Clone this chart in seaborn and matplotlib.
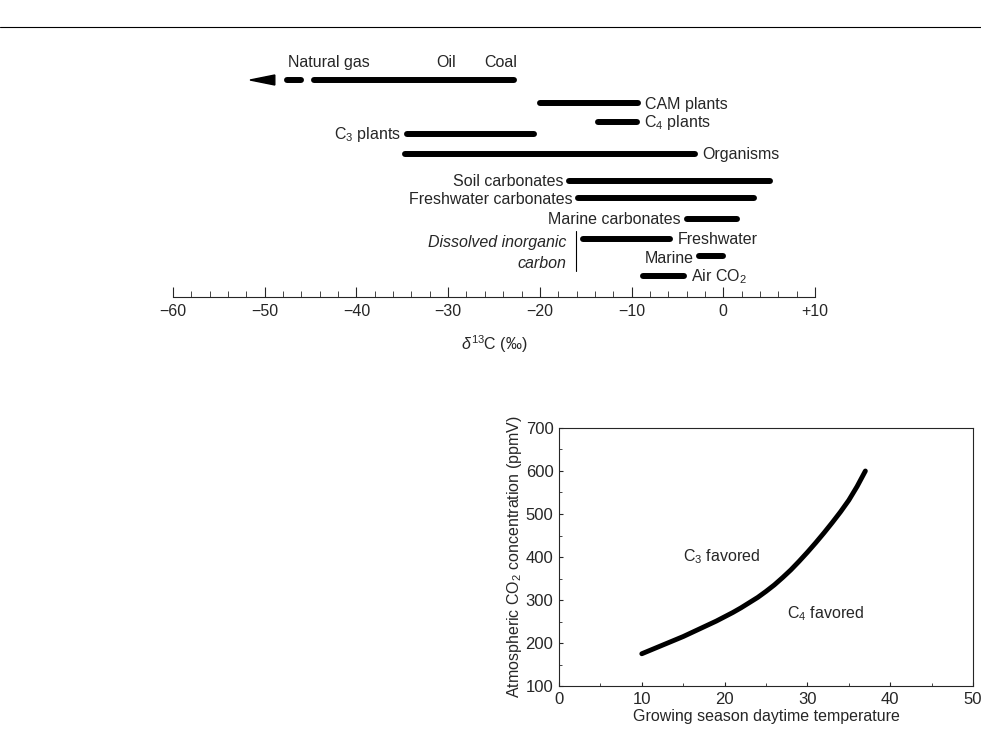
import numpy as np
import pandas as pd
import matplotlib
matplotlib.use("Agg")
import matplotlib.pyplot as plt
import seaborn as sns
from matplotlib.lines import Line2D

# delta13C ranges (per mil)
groups = ["Fossil", "CAM plants", "C$_4$ plants", "C$_3$ plants", "Organisms",
          "Soil carbonates", "Freshwater carbonates", "Marine carbonates",
          "Freshwater", "Marine", "Air CO$_2$"]
d13c_low = [-44.6, -20.0, -13.7, -34.5, -34.7, -16.8, -15.8, -4.0, -15.3, -2.7, -8.8]
d13c_high = [-22.8, -9.3, -9.4, -20.6, -3.1, 5.1, 3.3, 1.5, -5.8, 0.0, -4.3]
gas_dash = [-47.6, -46.0]
arrow_tip = -51.6

# C3/C4 crossover curve
temp = [10, 11, 12, 13, 14, 15, 16, 17, 18, 19, 20, 21, 22, 23, 24, 25, 26, 27, 28,
        29, 30, 31, 32, 33, 34, 35, 36, 37]
co2 = [175, 183, 191, 199, 207, 215, 224, 233, 242, 251, 261, 271, 282, 294, 306,
       320, 335, 352, 370, 390, 411, 433, 456, 480, 505, 532, 564, 600]

# layout rows (pixel-like vertical positions)
rows = [80, 103, 122, 134, 154, 181, 198, 219, 239, 256, 276]

sns.set_style("ticks")
plt.rcParams['font.family'] = ['Liberation Sans', 'DejaVu Sans']
plt.rcParams['mathtext.fontset'] = 'custom'
plt.rcParams['mathtext.rm'] = 'Liberation Sans'
plt.rcParams['mathtext.it'] = 'Liberation Sans:italic'

fig = plt.figure(figsize=(9.81, 7.33), dpi=100)
fig.add_artist(Line2D([0, 1], [1 - 27 / 733, 1 - 27 / 733], color='black', lw=0.8))

ax = fig.add_axes([173 / 981, 1 - 297 / 733, 642 / 981, 237 / 733])
ax.hlines(rows, d13c_low, d13c_high, color='black', lw=4.3, capstyle='round')
ax.hlines([rows[0]], [gas_dash[0]], [gas_dash[1]], color='black', lw=4.3, capstyle='round')
ax.fill([arrow_tip, -48.9, -48.9], [rows[0], rows[0] - 5, rows[0] + 5], color='black')
ax.set_xlim(-60, 10)
ax.set_ylim(297, 60)
fs = 11.5
ax.text(-43.0, 67, "Natural gas", ha='center', fontsize=fs)
ax.text(-30.2, 67, "Oil", ha='center', fontsize=fs)
ax.text(-24.3, 67, "Coal", ha='center', fontsize=fs)
for i in (1, 2, 4, 8):
    ax.text(d13c_high[i] + 0.8, rows[i] + 1, groups[i], va='center', fontsize=fs)
for i in (3, 5, 6, 7):
    ax.text(d13c_low[i] - 0.6, rows[i] + 1, groups[i], va='center', ha='right', fontsize=fs)
ax.text(d13c_low[9] - 0.5, rows[9] + 3, groups[9], va='center', ha='right', fontsize=fs)
ax.text(d13c_high[10] + 0.8, rows[10] + 1, groups[10], va='center', fontsize=fs)
ax.plot([-16.1, -16.1], [231, 271], color='black', lw=0.8)
ax.text(-17.1, 242, "Dissolved inorganic", ha='right', va='center', fontsize=fs, style='italic')
ax.text(-17.1, 264, "carbon", ha='right', va='center', fontsize=fs, style='italic')
for s in ("top", "left", "right"):
    ax.spines[s].set_visible(False)
ax.set_yticks([])
ax.set_xticks(range(-60, 11, 10))
ax.set_xticklabels(["\u221260", "\u221250", "\u221240", "\u221230", "\u221220", "\u221210", "0", "+10"], fontsize=fs)
ax.set_xticks(np.arange(-60, 11, 2), minor=True)
ax.tick_params(axis='x', which='major', direction='in', length=7, pad=5)
ax.tick_params(axis='x', which='minor', direction='in', length=4)
ax.set_xlabel("$\\it{\\delta}^{13}$C (\u2030)", fontsize=fs, labelpad=10)

ax2 = fig.add_axes([559 / 981, 1 - 686 / 733, 414 / 981, 258 / 733])
sns.lineplot(x=temp, y=co2, ax=ax2, color='black', lw=3.5)
ax2.set_xlim(0, 50)
ax2.set_ylim(100, 700)
ax2.set_xticks(range(0, 51, 10))
ax2.set_xticks(range(5, 50, 10), minor=True)
ax2.set_yticks(range(100, 701, 100))
ax2.set_yticks(range(150, 700, 100), minor=True)
ax2.tick_params(which='both', direction='in', labelsize=12, pad=4)
ax2.tick_params(which='major', length=3)
ax2.tick_params(which='minor', length=2)
ax2.set_xlabel("Growing season daytime temperature", fontsize=11.5, labelpad=2)
ax2.set_ylabel("Atmospheric CO$_2$ concentration (ppmV)", fontsize=11.5, labelpad=1)
ax2.text(15, 390, "C$_3$ favored", fontsize=11.5)
ax2.text(27.5, 258, "C$_4$ favored", fontsize=11.5)
for s in ax2.spines.values():
    s.set_linewidth(0.8)

fig.savefig("out.png", dpi=100)
